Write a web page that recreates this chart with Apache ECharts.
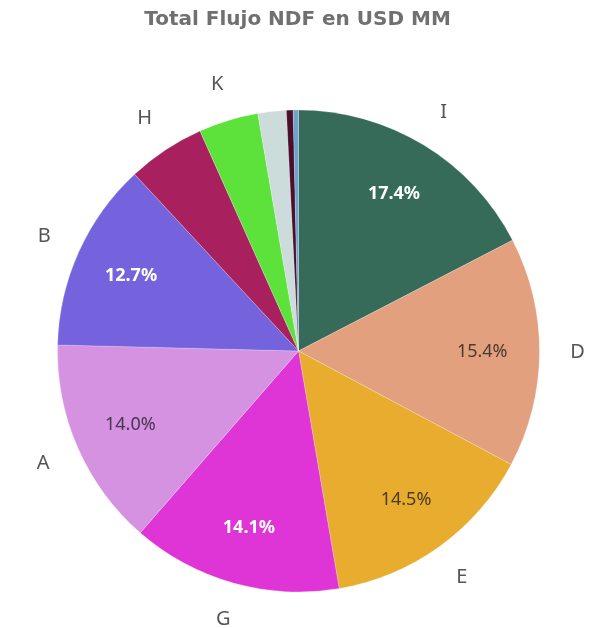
<!DOCTYPE html>
<html>
<head>
<meta charset="utf-8">
<script src="https://cdn.jsdelivr.net/npm/echarts@6/dist/echarts.min.js"></script>
<style>html,body{margin:0;padding:0;background:#fff}#c{width:595px;height:628px}</style>
</head>
<body>
<div id="c"></div>
<script>
const titleText = 'Total Flujo NDF en USD MM';
const categories = ['I', 'D', 'E', 'G', 'A', 'B', 'H', 'K', 'L', 'M', 'N'];
const values = [17.4, 15.4, 14.5, 14.1, 14.0, 12.7, 5.2, 4.0, 1.9, 0.45, 0.35];
const colors = ['#366b59', '#e3a07f', '#e8ac2e', '#e035d6', '#d492e0', '#7463dc', '#a8205e', '#5de23c', '#cbdcdb', '#4a0f2a', '#6fa3cf'];
const pctLabelColors = ['#ffffff', '#4a3a30', '#4a3a20', '#ffffff', '#4a3550', '#ffffff'];
const showName = [true, true, true, true, true, true, true, true, false, false, false];

const cx = 298.5, cy = 351, R = 241;
const chart = echarts.init(document.getElementById('c'));
const baseData = categories.map((c, i) => ({ name: c, value: values[i], itemStyle: { color: colors[i] } }));
const pctData = categories.map((c, i) => ({
  name: c, value: values[i],
  label: i < 6 ? { show: true, color: pctLabelColors[i], fontWeight: pctLabelColors[i] === '#ffffff' ? 'bold' : 'normal' } : { show: false }
}));
const nameData = categories.map((c, i) => ({ name: c, value: values[i], label: { show: showName[i] } }));

chart.setOption({
  animation: false,
  title: { text: titleText, left: 'center', top: 5, textStyle: { fontSize: 20, fontWeight: 'bold', color: '#707070', fontFamily: 'DejaVu Sans' } },
  series: [
    { type: 'pie', center: [cx, cy], radius: [0, R], startAngle: 90, silent: true,
      label: { show: false }, labelLine: { show: false },
      itemStyle: { borderWidth: 0.6, borderColor: 'rgba(255,255,255,0.35)' },
      data: baseData },
    { type: 'pie', center: [cx, cy], radius: [R * 0.5, R], startAngle: 90, silent: true,
      itemStyle: { color: 'rgba(0,0,0,0)' }, labelLine: { show: false },
      label: { position: 'inside', fontSize: 18, fontFamily: 'Noto Sans', formatter: p => p.value.toFixed(1) + '%' },
      data: pctData },
    { type: 'pie', center: [cx, cy], radius: [R + 14, R + 56], startAngle: 90, silent: true,
      itemStyle: { color: 'rgba(0,0,0,0)' }, labelLine: { show: false },
      label: { position: 'inside', fontSize: 20, color: '#555555', fontFamily: 'Noto Sans', formatter: '{b}' },
      data: nameData }
  ]
});
</script>
</body>
</html>
